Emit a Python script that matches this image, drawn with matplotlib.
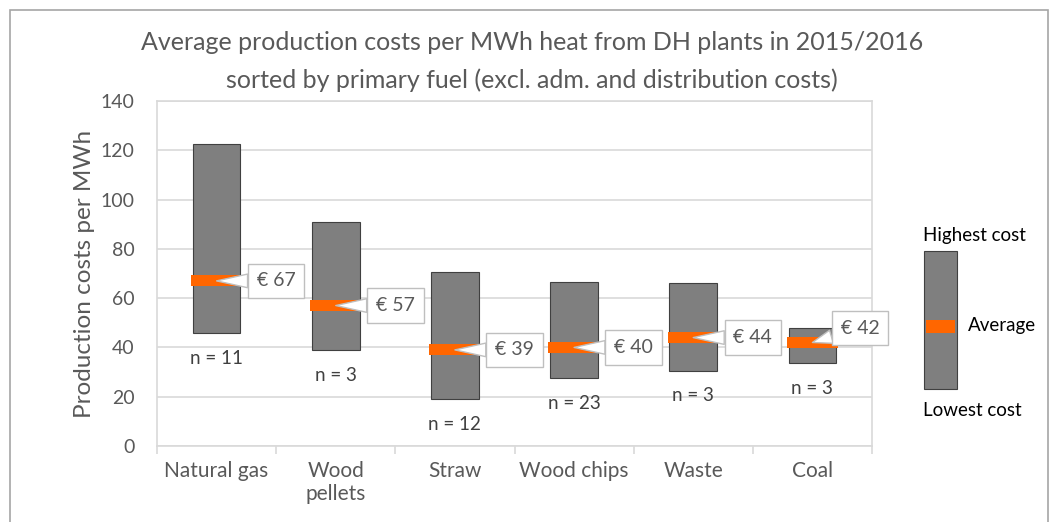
#!/usr/bin/env python3
"""Range chart of DH heat production costs by primary fuel."""

import matplotlib.pyplot as plt
from matplotlib.patches import Rectangle

FUELS = ["Natural gas", "Wood\npellets", "Straw", "Wood chips", "Waste", "Coal"]
HIGHEST = [122.5, 91.0, 70.5, 66.7, 66.0, 47.8]
LOWEST = [45.8, 38.8, 19.0, 27.4, 30.5, 33.5]
AVERAGE = [67, 57, 39, 40, 44, 42]
COUNTS = [11, 3, 12, 23, 3, 3]

GREY = "#7f7f7f"
ORANGE = "#ff6600"
TXT = "#595959"
GRID = "#d9d9d9"
FONT = "Lato"

# callout label placement tweaks (layout only)
LABEL_DX = [0.5, 0.5, 0.5, 0.5, 0.5, 0.4]
LABEL_DY = [0, 0, 0, 0, 0, 5.8]


def main() -> None:
    plt.rcParams["font.family"] = [FONT, "DejaVu Sans"]
    fig = plt.figure(figsize=(10.55, 5.22), dpi=100)

    # outer chart frame
    fig.patches.append(Rectangle((10 / 1055, -0.1), 1038 / 1055, 1.1 - 10 / 522,
                                 transform=fig.transFigure, fill=False,
                                 edgecolor="#a6a6a6", lw=1.2))

    ax = fig.add_axes([157 / 1055, 1 - 446 / 522, 715 / 1055, 345 / 522])
    x = list(range(len(FUELS)))
    heights = [h - l for h, l in zip(HIGHEST, LOWEST)]

    ax.bar(x, heights, bottom=LOWEST, width=0.40, color=GREY,
           edgecolor="#404040", lw=0.8, zorder=3)
    ax.bar(x, [4.4] * len(x), bottom=[a - 2.2 for a in AVERAGE], width=0.43,
           color=ORANGE, lw=0, zorder=4)

    for i in x:
        ax.annotate(f"n = {COUNTS[i]}", (i, LOWEST[i]), xytext=(0, -18),
                    textcoords="offset points", ha="center", va="center",
                    fontsize=13.5, color="#404040", zorder=5)
        ax.annotate(f"€ {AVERAGE[i]}", xy=(i, AVERAGE[i]),
                    xytext=(i + LABEL_DX[i], AVERAGE[i] + LABEL_DY[i]),
                    ha="center", va="center", fontsize=14, color=TXT,
                    bbox=dict(boxstyle="square,pad=0.45", fc="white",
                              ec="#bfbfbf", lw=1),
                    arrowprops=dict(arrowstyle="wedge,tail_width=0.7,shrink_factor=0.5",
                                    fc="white", ec="#bfbfbf", lw=1,
                                    shrinkA=0, shrinkB=0),
                    zorder=6)

    ax.set_xlim(-0.5, len(FUELS) - 0.5)
    ax.set_ylim(0, 140)
    ax.set_yticks(range(0, 141, 20))
    ax.set_xticks(x)
    ax.set_xticklabels(FUELS, fontsize=15, color=TXT, va="top", linespacing=1.15)
    ax.set_xticks([i + 0.5 for i in range(-1, len(FUELS))], minor=True)
    ax.tick_params(axis="x", which="major", length=0, pad=11)
    ax.tick_params(axis="x", which="minor", length=6, color=GRID, width=1.2)
    ax.tick_params(axis="y", length=0, pad=16, labelsize=14, labelcolor=TXT)
    ax.grid(axis="y", color=GRID, lw=1.2, zorder=0)
    for s in ax.spines.values():
        s.set_color(GRID)
        s.set_linewidth(1.2)

    ax.set_ylabel("Production costs per MWh", fontsize=17.5, color=TXT, labelpad=4)

    fig.text(532 / 1055, 1 - 43 / 522,
             "Average production costs per MWh heat from DH plants in 2015/2016",
             ha="center", va="center", fontsize=18, color=TXT)
    fig.text(532 / 1055, 1 - 80 / 522,
             "sorted by primary fuel (excl. adm. and distribution costs)",
             ha="center", va="center", fontsize=18, color=TXT)

    # key on the right
    fig.patches.append(Rectangle((924 / 1055, 1 - 389 / 522), 33 / 1055, 138 / 522,
                                 transform=fig.transFigure, fc=GREY,
                                 ec="#404040", lw=0.8))
    fig.patches.append(Rectangle((926 / 1055, 1 - 333 / 522), 29 / 1055, 13 / 522,
                                 transform=fig.transFigure, fc=ORANGE, lw=0))
    fig.text(923 / 1055, 1 - 235 / 522, "Highest cost", ha="left", va="center",
             fontsize=13.5, color="black")
    fig.text(968 / 1055, 1 - 326 / 522, "Average", ha="left", va="center",
             fontsize=13.5, color="black")
    fig.text(923 / 1055, 1 - 410 / 522, "Lowest cost", ha="left", va="center",
             fontsize=13.5, color="black")

    fig.savefig("out.png", dpi=100, facecolor="white")
    plt.close(fig)


if __name__ == "__main__":
    main()
